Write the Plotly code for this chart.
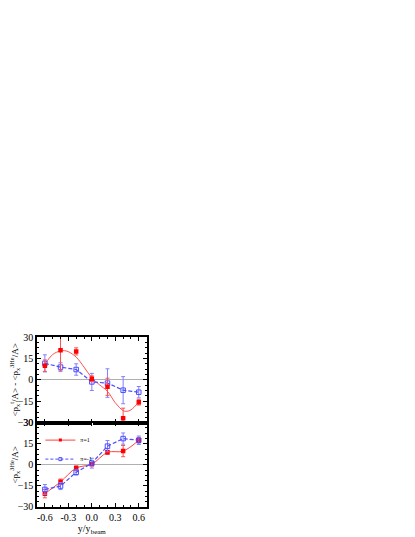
import plotly.graph_objects as go
from plotly.subplots import make_subplots

# rapidity bins
y_rap = [-0.6, -0.4, -0.2, 0.0, 0.2, 0.4, 0.6]

# upper panel: <px^t/A> - <px^3He/A>
diff_pos = [10.0, 20.8, 20.0, 0.8, -4.8, -26.8, -15.6]
diff_pos_err = [4.0, 14.0, 2.5, 2.0, 6.0, 7.0, 2.0]
diff_neg = [11.6, 9.0, 7.3, -1.4, -2.2, -7.2, -8.6]
diff_neg_err = [6.0, 3.0, 4.0, 6.0, 10.0, 9.5, 4.0]

# fitted curve through the upper red points
fit_x = [-0.6, -0.5, -0.4, -0.35, -0.3, -0.2, -0.1, 0.0, 0.1, 0.2, 0.3, 0.4, 0.45, 0.5, 0.6]
fit_y = [11.0, 17.8, 20.4, 20.5, 19.8, 16.0, 9.0, 1.5, -3.5, -8.0, -16.0, -21.5, -22.0, -21.0, -15.5]

# lower panel: <px^3He/A>
flow_pos = [-20.5, -12.1, -2.3, 0.5, 8.9, 9.8, 17.5]
flow_pos_err = [3.0, 2.0, 1.5, 1.0, 1.5, 4.0, 2.0]
flow_neg = [-17.5, -15.1, -5.3, 1.2, 13.3, 18.7, 17.5]
flow_neg_err = [3.5, 2.5, 2.0, 3.5, 4.0, 4.0, 3.0]

RED = "#ff0000"
BLUE = "#4d4dff"
FONT = "Liberation Serif"
DASH = "4px,2px"

fig = make_subplots(rows=2, cols=1, shared_xaxes=True, vertical_spacing=0)

# top panel
fig.add_trace(go.Scatter(x=fit_x, y=fit_y, mode="lines", line=dict(color="#ff5050", width=1, shape="spline"),
                         showlegend=False, hoverinfo="skip"), row=1, col=1)
fig.add_trace(go.Scatter(x=y_rap, y=diff_neg, mode="lines+markers",
                         line=dict(color=BLUE, width=1.2, dash=DASH),
                         marker=dict(symbol="square-open", size=4.5, color=BLUE, line=dict(width=1)),
                         error_y=dict(array=diff_neg_err, color="#8080ff", thickness=1, width=2),
                         showlegend=False), row=1, col=1)
fig.add_trace(go.Scatter(x=y_rap, y=diff_pos, mode="markers",
                         marker=dict(symbol="square", size=4.5, color=RED),
                         error_y=dict(array=diff_pos_err, color="#ff5050", thickness=1, width=2),
                         showlegend=False), row=1, col=1)

# bottom panel
fig.add_trace(go.Scatter(x=y_rap, y=flow_pos, mode="lines+markers", showlegend=False,
                         line=dict(color="#ff4040", width=1, shape="spline"),
                         marker=dict(symbol="square", size=4.5, color=RED),
                         error_y=dict(array=flow_pos_err, color="#ff5050", thickness=1, width=2)),
              row=2, col=1)
fig.add_trace(go.Scatter(x=y_rap, y=flow_neg, mode="lines+markers", showlegend=False,
                         line=dict(color=BLUE, width=1.2, dash=DASH),
                         marker=dict(symbol="square-open", size=4.5, color=BLUE, line=dict(width=1)),
                         error_y=dict(array=flow_neg_err, color="#8080ff", thickness=1, width=2)),
              row=2, col=1)

# legend-only entries (small symbols, no error bars)
fig.add_trace(go.Scatter(x=[None], y=[None], mode="lines+markers", name="π=1",
                         line=dict(color="#ff4040", width=1),
                         marker=dict(symbol="square", size=3, color=RED)), row=2, col=1)
fig.add_trace(go.Scatter(x=[None], y=[None], mode="lines+markers", name="π=-1",
                         line=dict(color=BLUE, width=1, dash="3px,2px"),
                         marker=dict(symbol="square-open", size=3, color=BLUE, line=dict(width=1))),
              row=2, col=1)

axis_common = dict(showline=True, linecolor="black", linewidth=1.5, mirror="allticks", ticks="inside",
                   ticklen=4, tickcolor="black", showgrid=False,
                   tickfont=dict(family=FONT, size=10, color="black"))

fig.update_xaxes(range=[-0.7, 0.7], tickvals=[-0.6, -0.3, 0.0, 0.3, 0.6],
                 ticktext=["-0.6", "-0.3", "0.0", "0.3", "0.6"],
                 minor=dict(ticks="inside", ticklen=2, dtick=0.1, tick0=0, tickcolor="black"),
                 domain=[0.07, 0.334], **axis_common)
fig.update_xaxes(title=dict(text="y/y<sub>beam</sub>", font=dict(family=FONT, size=10, color="black"),
                            standoff=0), row=2, col=1)
fig.update_yaxes(range=[-30, 30], tickvals=[-30, -15, 0, 15, 30],
                 minor=dict(ticks="inside", ticklen=2, dtick=3.75, tick0=0, tickcolor="black"),
                 zeroline=True, zerolinecolor="#b0b0b0", zerolinewidth=1, **axis_common)
fig.update_yaxes(domain=[0.2215, 0.3845], row=1, col=1,
                 title=dict(text="&lt;p<sub>x</sub><sup>t</sup>/A&gt; - &lt;p<sub>x</sub><sup>3He</sup>/A&gt;",
                            font=dict(family=FONT, size=9, color="black"), standoff=2))
fig.update_yaxes(domain=[0.061, 0.2215], row=2, col=1,
                 title=dict(text="&lt;p<sub>x</sub><sup>3He</sup>/A&gt;",
                            font=dict(family=FONT, size=9, color="black"), standoff=2))

fig.update_layout(width=415, height=537, margin=dict(l=0, r=0, t=0, b=0),
                  plot_bgcolor="white", paper_bgcolor="white",
                  legend=dict(x=0.078, y=0.216, xanchor="left", yanchor="top", bgcolor="rgba(0,0,0,0)",
                              font=dict(family=FONT, size=6, color="black"), itemwidth=30,
                              tracegroupgap=0))

fig.write_html("out.html")
